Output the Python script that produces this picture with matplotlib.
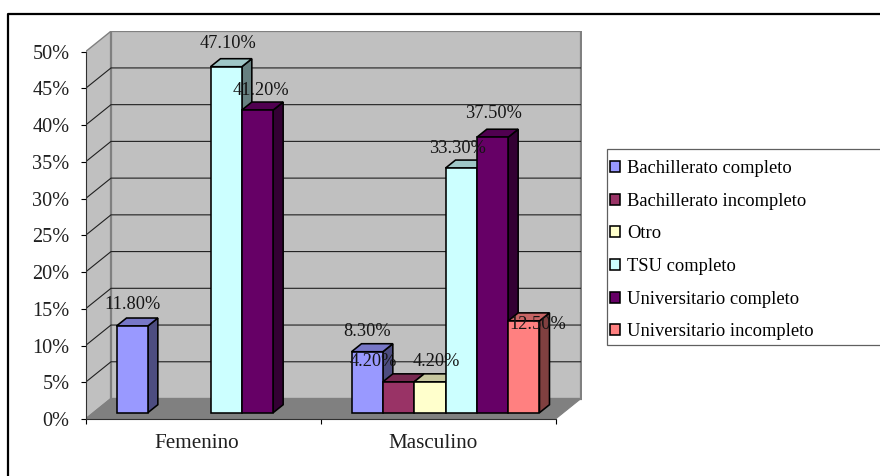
import matplotlib
matplotlib.use('Agg')
import matplotlib.pyplot as plt
from matplotlib.colors import to_rgb
from matplotlib.lines import Line2D
from matplotlib.patches import Patch, Polygon, Rectangle

# datos
groups = ['Femenino', 'Masculino']
series = ['Bachillerato completo', 'Bachillerato incompleto', 'Otro',
          'TSU completo', 'Universitario completo', 'Universitario incompleto']
femenino = [11.8, 0, 0, 47.1, 41.2, 0]
masculino = [8.3, 4.2, 4.2, 33.3, 37.5, 12.5]
y_ticks = [0, 5, 10, 15, 20, 25, 30, 35, 40, 45, 50]

colors = ['#9999FF', '#993366', '#FFFFCC', '#CCFFFF', '#660066', '#FF8080']

# desplazamiento de cada etiqueta (px) respecto al centro-arriba de su barra
label_off_fem = [(0, 22), None, None, (2, 23), (3, 20), None]
label_off_mas = [(0, 20), (-25, 20), (6, 20), (-4, 20), (1, 24), (14, -4)]

W, H = 880, 476
PX_X = 235.0    # px por categoria
PX_Y = 7.346    # px por 1%
FONT = 'Liberation Serif'

fig = plt.figure(figsize=(W / 100, H / 100), dpi=100, facecolor='white')

# marco exterior (sale por abajo y por la derecha)
fig.add_artist(Line2D([7.5 / W, 7.5 / W, 1], [0, 1 - 13.5 / H, 1 - 13.5 / H],
                      color='black', lw=1.6))

left, bottom, right, top = 85.5, 419, 582, 31
ax = fig.add_axes([left / W, 1 - bottom / H, (right - left) / W, (bottom - top) / H])
ax.set_xlim(0, (right - left) / PX_X)
ax.set_ylim(0, (bottom - top) / PX_Y)
ax.patch.set_visible(False)

# profundidad de la caja 3D y de las barras
box_dx, box_dy = 25.5 / PX_X, 20.5 / PX_Y
bar_dx, bar_dy = 10 / PX_X, 8 / PX_Y
bar_w = 31.33 / PX_X
shift_x, base_y = 7.5 / PX_X, 6.3 / PX_Y

wall = '#C0C0C0'
edge = '#808080'
# pared izquierda, pared de fondo, suelo
ax.add_patch(Polygon([(0, 0), (box_dx, box_dy), (box_dx, 50 + box_dy), (0, 50)],
                     fc=wall, ec=edge, lw=1.0, zorder=1))
ax.add_patch(Polygon([(box_dx, box_dy), (2 + box_dx, box_dy), (2 + box_dx, 50 + box_dy),
                      (box_dx, 50 + box_dy)], fc=wall, ec=edge, lw=1.6, zorder=1))
ax.add_patch(Polygon([(0, 0), (2, 0), (2 + box_dx, box_dy), (box_dx, box_dy)],
                     fc=edge, ec=edge, lw=0.8, zorder=2))

# lineas de la cuadricula
for v in y_ticks[1:-1]:
    ax.plot([0, box_dx, 2 + box_dx], [v, v + box_dy, v + box_dy],
            color='#202020', lw=0.8, zorder=2, solid_capstyle='butt')


def shade(color, k):
    return tuple(c * k for c in to_rgb(color))


def draw_bar(x0, val, color):
    x1 = x0 + bar_w
    y0, y1 = base_y, base_y + val
    kw = dict(ec='black', lw=1.15, joinstyle='miter', zorder=3)
    ax.add_patch(Polygon([(x1, y0), (x1 + bar_dx, y0 + bar_dy), (x1 + bar_dx, y1 + bar_dy),
                          (x1, y1)], fc=shade(color, 0.5), **kw))
    ax.add_patch(Polygon([(x0, y1), (x1, y1), (x1 + bar_dx, y1 + bar_dy),
                          (x0 + bar_dx, y1 + bar_dy)], fc=shade(color, 0.78), **kw))
    ax.add_patch(Polygon([(x0, y0), (x1, y0), (x1, y1), (x0, y1)], fc=color, **kw))


for g, (vals, offs) in enumerate([(femenino, label_off_fem), (masculino, label_off_mas)]):
    for i, val in enumerate(vals):
        if val == 0:
            continue
        x0 = g + 0.5 + shift_x + (i - 3) * bar_w
        draw_bar(x0, val, colors[i])
        ox, oy = offs[i]
        ax.annotate(f'{val:.2f}%', (x0 + bar_w / 2, base_y + val),
                    xytext=(ox * 0.72, oy * 0.72), textcoords='offset points',
                    ha='center', va='center', family=FONT, fontsize=13.2,
                    color='#151515', zorder=5)

# ejes
for name in ['top', 'right']:
    ax.spines[name].set_visible(False)
ax.spines['left'].set_bounds(0, 50)
ax.spines['bottom'].set_bounds(0, 2)
ax.spines['left'].set_color('#303030')
ax.spines['bottom'].set_color('#303030')
ax.spines['left'].set_linewidth(0.8)
ax.spines['bottom'].set_linewidth(0.8)
ax.set_yticks(y_ticks)
ax.set_yticklabels([f'{v}%' for v in y_ticks], family=FONT, fontsize=14.6, color='#202020')
ax.tick_params(axis='y', length=3.6, width=0.8, pad=8, color='black')
ax.set_xticks([0, 1, 2])
ax.set_xticklabels([])
ax.tick_params(axis='x', length=3.6, width=0.8, color='black')
ax.set_xticks([0.4715, 1.479], labels=groups, minor=True, family=FONT, fontsize=15.2, color='#202020')
ax.tick_params(axis='x', which='minor', length=0, pad=11)

# leyenda: el recuadro va aparte porque los cuadritos quedan pegados al borde
fig.add_artist(Rectangle((606.7 / W, 1 - 345 / H), 280 / W, 195.7 / H,
                         transform=fig.transFigure, fc='white', ec='#606060', lw=0.9))
handles = [Patch(fc=c, ec='black', lw=1.15, label=s) for c, s in zip(colors, series)]
leg = fig.legend(handles=handles, loc='upper left',
                 bbox_to_anchor=(602.2 / W, 1 - 152.2 / H),
                 borderaxespad=0, frameon=False,
                 prop={'family': FONT, 'size': 13.3}, labelspacing=0.85,
                 handlelength=0.54, handleheight=0.54, handletextpad=0.38,
                 borderpad=0.42)

fig.savefig('out.png', dpi=100, facecolor='white')
